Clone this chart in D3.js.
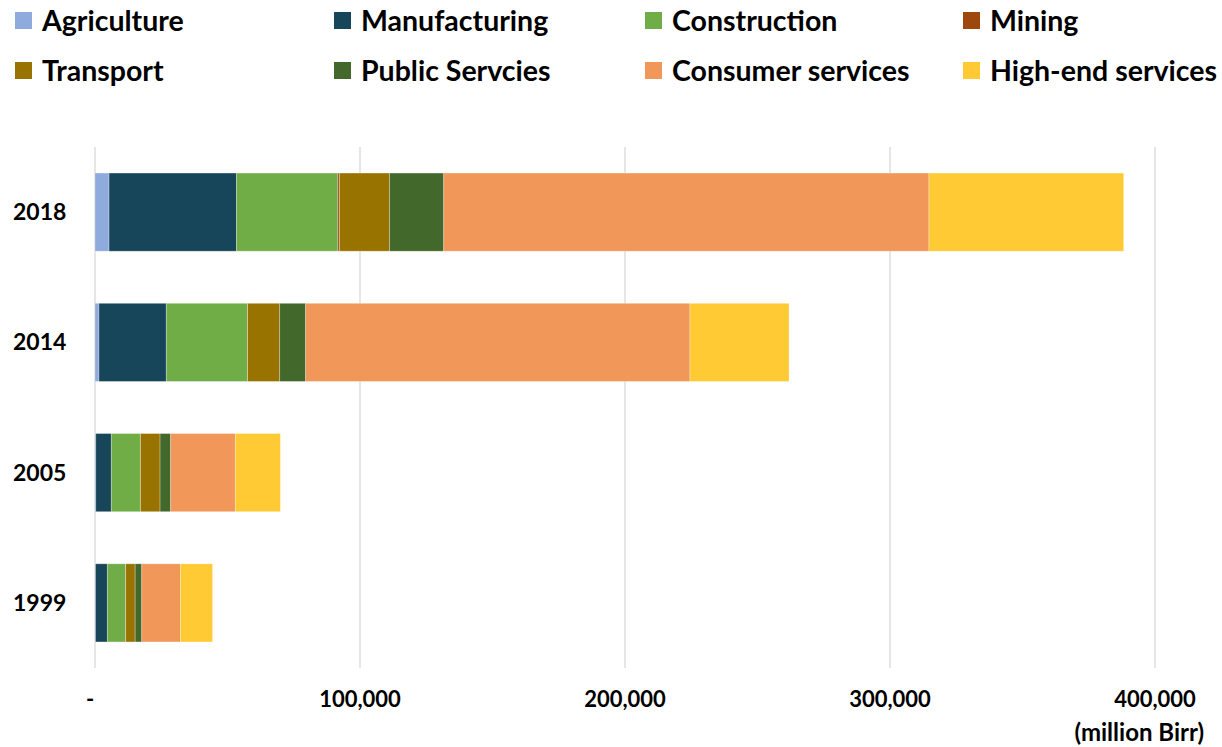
<!DOCTYPE html>
<html>
<head>
<meta charset="utf-8">
<script src="https://cdn.jsdelivr.net/npm/d3@7"></script>
<style>
  body { margin: 0; background: #fff; }
  svg { display: block; font-family: Lato, "Open Sans", sans-serif; }
</style>
</head>
<body>
<div id="chart"></div>
<script>
const years = ["2018", "2014", "2005", "1999"];
const sectors = ["Agriculture", "Manufacturing", "Construction", "Mining",
  "Transport", "Public Servcies", "Consumer services", "High-end services"];
const colors = ["#8FAADC", "#17455A", "#70AD47", "#9E480E",
  "#997300", "#43682B", "#F1975A", "#FFCA33"];

// million Birr, one array per sector, in the order of years
const agriculture = [5300, 1500, 300, 200];
const manufacturing = [48100, 25400, 5850, 4450];
const construction = [38250, 30600, 10950, 6900];
const mining = [640, 100, 50, 50];
const transport = [18900, 12100, 7400, 3550];
const publicServices = [20400, 9800, 4000, 2500];
const consumer = [183100, 145000, 24400, 14600];
const highEnd = [73500, 37400, 17000, 12100];
const xTicks = [0, 100000, 200000, 300000, 400000];

const series = [agriculture, manufacturing, construction, mining,
  transport, publicServices, consumer, highEnd];

const rows = years.map((y, i) => {
  const r = { year: y };
  sectors.forEach((s, j) => r[s] = series[j][i]);
  return r;
});

const width = 1222, height = 747;
const svg = d3.select("#chart").append("svg")
  .attr("width", width).attr("height", height);

const x = d3.scaleLinear().domain([0, 400000]).range([95, 1155]);
const y = d3.scaleBand().domain(years).range([147, 668])
  .paddingInner(0.4).paddingOuter(0.2);

// gridlines
svg.append("g")
  .selectAll("line")
  .data(xTicks)
  .join("line")
  .attr("x1", d => x(d)).attr("x2", d => x(d))
  .attr("y1", 147).attr("y2", 668)
  .attr("stroke", "#d9d9d9").attr("stroke-width", 1.3);

const stack = d3.stack().keys(sectors)(rows);
const color = d3.scaleOrdinal().domain(sectors).range(colors);

svg.append("g")
  .selectAll("g")
  .data(stack)
  .join("g")
  .attr("fill", d => color(d.key))
  .selectAll("rect")
  .data(d => d)
  .join("rect")
  .attr("x", d => x(d[0]))
  .attr("width", d => x(d[1]) - x(d[0]))
  .attr("y", d => y(d.data.year))
  .attr("height", y.bandwidth())
  .attr("stroke", "#fff").attr("stroke-opacity", 0.35).attr("stroke-width", 0.8);

// category labels
svg.append("g")
  .selectAll("text")
  .data(years)
  .join("text")
  .attr("x", 13)
  .attr("y", d => y(d) + y.bandwidth() / 2)
  .attr("dy", "0.35em")
  .attr("font-size", 23).attr("font-weight", "bold")
  .text(d => d);

// x tick labels
svg.append("g")
  .selectAll("text")
  .data(xTicks)
  .join("text")
  .attr("x", d => d === 0 ? x(d) - 5 : x(d))
  .attr("y", 707)
  .attr("text-anchor", "middle")
  .attr("font-size", 22).attr("font-weight", "bold")
  .text(d => d === 0 ? "-" : d3.format(",")(d));

svg.append("text")
  .attr("x", 1204).attr("y", 741)
  .attr("text-anchor", "end")
  .attr("font-size", 24).attr("font-weight", "bold")
  .text("(million Birr)");

// legend
const legendX = [15, 334, 645, 963];
const legend = svg.append("g")
  .selectAll("g")
  .data(sectors)
  .join("g")
  .attr("transform", (d, i) => `translate(${legendX[i % 4]},${i < 4 ? 12 : 62})`);
legend.append("rect")
  .attr("width", 17).attr("height", 17)
  .attr("fill", d => color(d));
legend.append("text")
  .attr("x", 27).attr("y", 9).attr("dy", "0.35em")
  .attr("font-size", 28.5).attr("font-weight", "bold")
  .text(d => d);
</script>
</body>
</html>
